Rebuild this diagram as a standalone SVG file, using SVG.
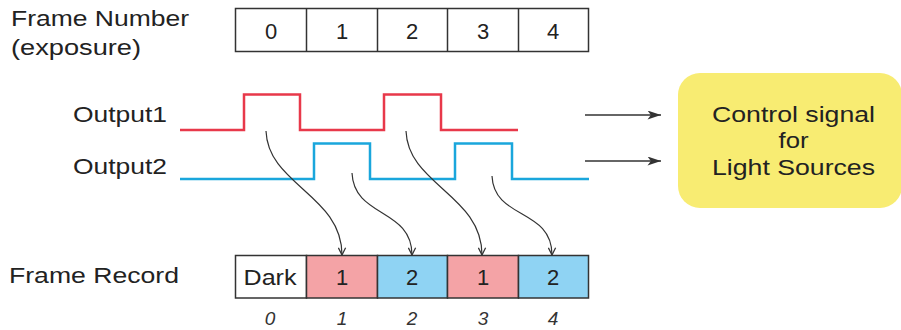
<svg xmlns="http://www.w3.org/2000/svg" width="901" height="330" viewBox="0 0 901 330">
<defs>
<style>
text{font-family:"Liberation Sans",Arial,sans-serif;fill:#222;}
.lbl{font-size:22px;}
.num{font-size:22px;text-anchor:middle;}
.idx{font-size:19px;font-style:italic;text-anchor:middle;fill:#333;}
.cell{stroke:#333;stroke-width:1.5;}
.sig{fill:none;stroke-width:2.5;stroke-linejoin:miter;}
.curve{fill:none;stroke:#333;stroke-width:1.2;marker-end:url(#open);}
.straight{fill:none;stroke:#333;stroke-width:1.3;marker-end:url(#solid);}
</style>
<marker id="open" viewBox="0 0 10 10" refX="9" refY="5" markerWidth="9" markerHeight="9" markerUnits="userSpaceOnUse" orient="auto">
<path d="M1,1 L9,5 L1,9" fill="none" stroke="#333" stroke-width="1.4"/>
</marker>
<marker id="solid" viewBox="0 0 12 8" refX="12" refY="4" markerWidth="14" markerHeight="9" markerUnits="userSpaceOnUse" orient="auto">
<path d="M0,0 L12,4 L0,8 L3,4 Z" fill="#333"/>
</marker>
</defs>
<rect width="901" height="330" fill="#fff"/>

<g id="frame-number-label">
<text class="lbl" x="11" y="26" textLength="178" lengthAdjust="spacingAndGlyphs">Frame Number</text>
<text class="lbl" x="11" y="55" textLength="130" lengthAdjust="spacingAndGlyphs">(exposure)</text>
</g>

<g id="frame-number">
<rect class="cell" x="235.5" y="8.5" width="353" height="43" fill="#fff"/>
<line class="cell" x1="306.5" y1="8.5" x2="306.5" y2="51.5"/>
<line class="cell" x1="377.5" y1="8.5" x2="377.5" y2="51.5"/>
<line class="cell" x1="447.5" y1="8.5" x2="447.5" y2="51.5"/>
<line class="cell" x1="518.5" y1="8.5" x2="518.5" y2="51.5"/>
<text class="num" x="271" y="39">0</text>
<text class="num" x="342" y="39">1</text>
<text class="num" x="412" y="39">2</text>
<text class="num" x="483" y="39">3</text>
<text class="num" x="553" y="39">4</text>
</g>

<g id="output1">
<text class="lbl" x="73" y="122" textLength="94" lengthAdjust="spacingAndGlyphs">Output1</text>
<polyline class="sig" stroke="#e8384a" points="180,130 244,130 244,94.5 300,94.5 300,130 384,130 384,94.5 441,94.5 441,130 518,130"/>
</g>

<g id="output2">
<text class="lbl" x="73" y="174" textLength="94" lengthAdjust="spacingAndGlyphs">Output2</text>
<polyline class="sig" stroke="#1aa6dc" points="180,179 314,179 314,143.5 370,143.5 370,179 455,179 455,143.5 512,143.5 512,179 589,179"/>
</g>

<g id="control-signal">
<rect x="678" y="73" width="224" height="135" rx="22" ry="22" fill="#f8ec72"/>
<text class="lbl" x="793.5" y="122" text-anchor="middle" textLength="163" lengthAdjust="spacingAndGlyphs">Control signal</text>
<text class="lbl" x="793.5" y="148" text-anchor="middle" textLength="30" lengthAdjust="spacingAndGlyphs">for</text>
<text class="lbl" x="793.5" y="175" text-anchor="middle" textLength="163" lengthAdjust="spacingAndGlyphs">Light Sources</text>
</g>

<g id="frame-record-label">
<text class="lbl" x="9" y="283" textLength="170" lengthAdjust="spacingAndGlyphs">Frame Record</text>
</g>

<g id="frame-record">
<rect class="cell" x="235.5" y="255.5" width="71" height="42.5" fill="#fff"/>
<rect class="cell" x="306.5" y="255.5" width="71" height="42.5" fill="#f4a3a6"/>
<rect class="cell" x="377.5" y="255.5" width="70" height="42.5" fill="#8fd3f3"/>
<rect class="cell" x="447.5" y="255.5" width="71" height="42.5" fill="#f4a3a6"/>
<rect class="cell" x="518.5" y="255.5" width="70" height="42.5" fill="#8fd3f3"/>
<text class="num" x="270" y="285" textLength="53" lengthAdjust="spacingAndGlyphs">Dark</text>
<text class="num" x="342" y="285">1</text>
<text class="num" x="412" y="285">2</text>
<text class="num" x="483" y="285">1</text>
<text class="num" x="553" y="285">2</text>
<text class="idx" x="270" y="325">0</text>
<text class="idx" x="342" y="325">1</text>
<text class="idx" x="412" y="325">2</text>
<text class="idx" x="483" y="325">3</text>
<text class="idx" x="553" y="325">4</text>
</g>

<g id="connectors">
<path class="curve" d="M266,131 C268,185 342,195 342,255"/>
<path class="curve" d="M352,173 C354,218 412,208 412,255"/>
<path class="curve" d="M406,131 C408,185 482,195 482,255"/>
<path class="curve" d="M492,176 C494,220 552,208 552,255"/>
<line class="straight" x1="585" y1="115" x2="661" y2="115"/>
<line class="straight" x1="585" y1="161" x2="661" y2="161"/>
</g>
</svg>
